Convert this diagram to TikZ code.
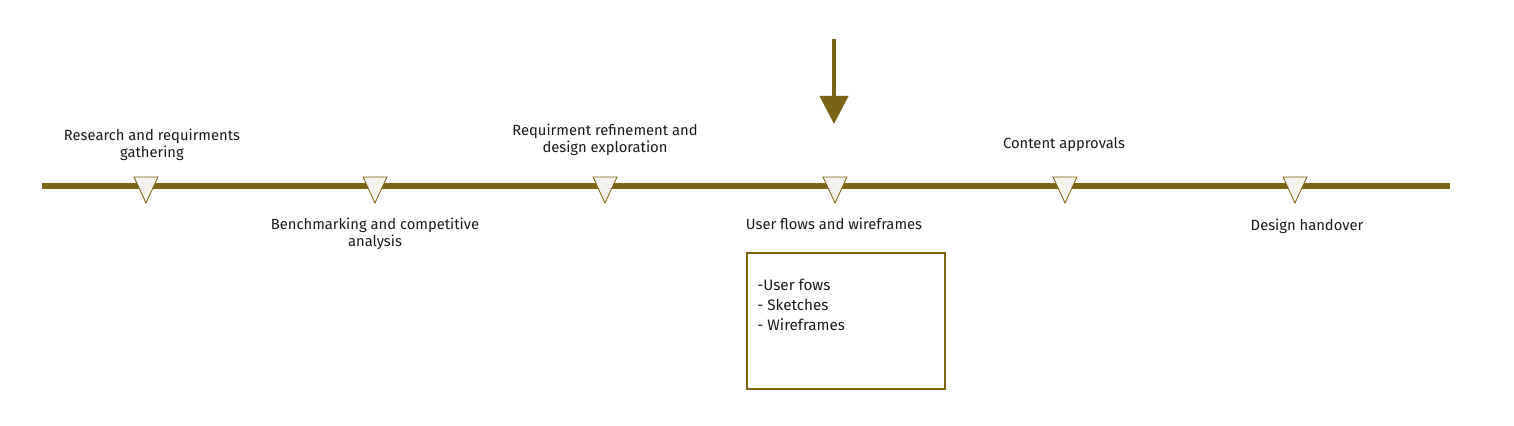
\documentclass[tikz,border=0pt]{standalone}
\usepackage{fontspec}
\setmainfont{Fira Sans}
\usetikzlibrary{arrows.meta,positioning}
\definecolor{olive}{HTML}{7B6416}
\definecolor{markbg}{HTML}{F3F1EB}
\definecolor{ink}{HTML}{1A1A1A}
\tikzset{
  trackline/.style={draw=olive,line width=6*0.7113pt},
  markstyle/.style={draw=olive,fill=markbg,line width=0.6pt,line join=miter},
  focusarr/.style={-{Triangle[length=28*0.7113pt,width=28*0.7113pt]},draw=olive,line width=4*0.7113pt},
  steplabel/.style={font=\fontsize{10.5}{12.1}\selectfont,text=ink,align=center,inner sep=0pt},
  notebox/.style={draw=olive,line width=0.8pt,minimum width=198*0.7113pt,minimum height=136*0.7113pt,inner sep=0pt},
  notetext/.style={font=\fontsize{10.8}{14.2}\selectfont,text=ink,align=left,inner sep=0pt}
}
\begin{document}
\begin{tikzpicture}[x=0.025cm,y=-0.025cm]
  \useasboundingbox (0,0) rectangle (1514,426);
  % timeline
  \coordinate (tstart) at (42,186);
  \coordinate (tend) at (1450,186);
  \draw[trackline] (tstart) -- (tend);
  % milestones
  \foreach \name/\xx in {m1/146,m2/375,m3/605,m4/835,m5/1065,m6/1295}{
    \coordinate (\name) at (\xx,186);
    \draw[markstyle] (\xx-12,177) -- (\xx+12,177) -- (\xx,203) -- cycle;
  }
  % labels above
  \node[steplabel] (l1) at (152,144.5) {Research and requirments\\gathering};
  \node[steplabel] (l3) at (605,139.5) {Requirment refinement and\\design exploration};
  \node[steplabel] (l5) at (1064,145) {Content approvals};
  % labels below
  \node[steplabel] (l2) at (375,234) {Benchmarking and competitive\\analysis};
  \node[steplabel] (l4) at (834,224) {User flows and wireframes};
  \node[steplabel] (l6) at (1307,226) {Design handover};
  % current step
  \coordinate (atop) at (834,39);
  \coordinate (abot) at (834,124);
  \draw[focusarr] (atop) -- (abot);
  % details
  \node[notebox] (nb) at (846,321) {};
  \node[notetext,anchor=north west] (nt) at (757,278.5) {-User fows\\- Sketches\\- Wireframes};
\end{tikzpicture}
\end{document}
